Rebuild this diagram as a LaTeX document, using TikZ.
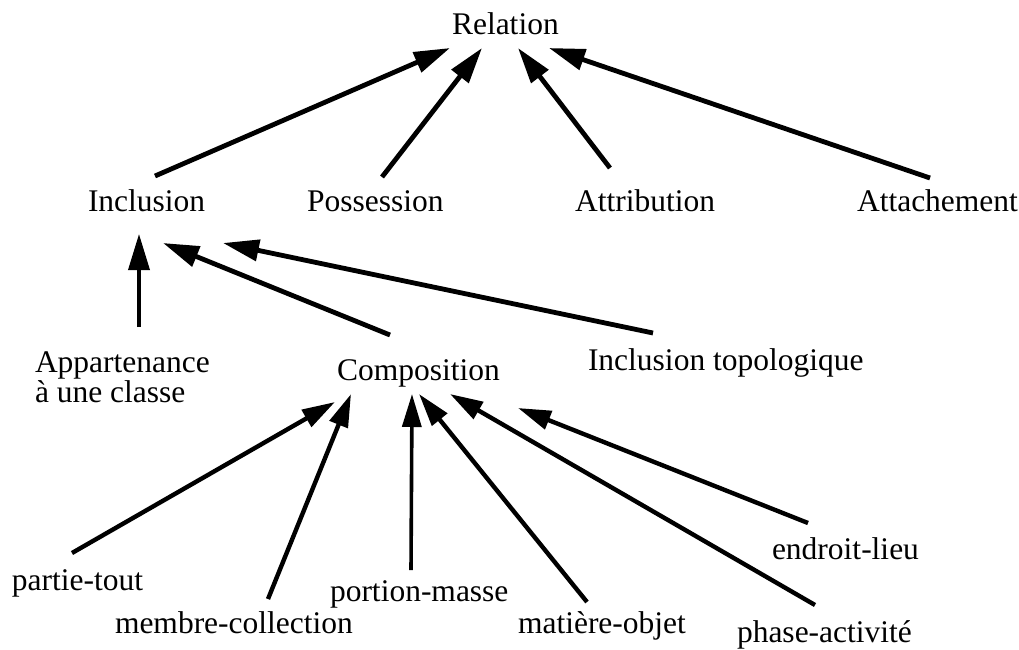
\documentclass[tikz,border=0pt]{standalone}
\usepackage{fontspec}
\setmainfont{Liberation Serif}
\usetikzlibrary{arrows.meta,calc}
\begin{document}
\begin{tikzpicture}[x=1pt,y=-1pt,
  lbl/.style={inner sep=0pt,outer sep=0pt,anchor=base west,font=\fontsize{31.5}{30}\selectfont},
  arr/.style={line width=4.8pt,-{Triangle[length=36pt,width=21pt]}},
  arrs/.style={line width=4.4pt,-{Triangle[length=33pt,width=19pt]}}]
\useasboundingbox[fill=white] (0,0) rectangle (1019,649);
% nodes
\node[lbl] (rel)  at (452,34)  {Relation};
\node[lbl] (incl) at (88,211)  {Inclusion};
\node[lbl] (poss) at (307,211) {Possession};
\node[lbl] (attr) at (575,211) {Attribution};
\node[lbl] (att)  at (857,211) {Attachement};
\node[lbl,align=left] (app) at (35,402) {Appartenance\\à une classe};
\node[lbl] (comp) at (337,380) {Composition};
\node[lbl] (topo) at (588,370) {Inclusion topologique};
\node[lbl] (pt) at (12,590)  {partie-tout};
\node[lbl] (mc) at (115,633) {membre-collection};
\node[lbl] (pm) at (330,601) {portion-masse};
\node[lbl] (mo) at (518,633) {matière-objet};
\node[lbl] (pa) at (737,642) {phase-activité};
\node[lbl] (el) at (772,559) {endroit-lieu};
% connectors: level 1
\draw[arr] ($(incl.base west)+(67,-35)$) -- ($(rel.base west)+(-2,14)$);
\draw[arr] ($(poss.base west)+(75,-34)$) -- ($(rel.base west)+(30,14)$);
\draw[arr] ($(attr.base west)+(35,-43)$) -- ($(rel.base west)+(66,14)$);
\draw[arr] ($(att.base west)+(73,-33)$) -- ($(rel.base west)+(97,14)$);
% level 2
\draw[arr,line width=3.6pt] ($(app.base west)+(104,-75)$) -- ($(incl.base west)+(51,23)$);
\draw[arr] ($(comp.base west)+(53,-45)$) -- ($(incl.base west)+(75,32)$);
\draw[arr] ($(topo.base west)+(65,-37)$) -- ($(incl.base west)+(135,32)$);
% level 3
\draw[arrs] ($(pt.base west)+(60,-37)$) -- ($(comp.base west)+(-2,22)$);
\draw[arrs] ($(mc.base west)+(153,-34)$) -- ($(comp.base west)+(14,14)$);
\draw[arrs,line width=3.6pt] ($(pm.base west)+(81,-31)$) -- ($(comp.base west)+(75,14)$);
\draw[arrs] ($(mo.base west)+(69,-31)$) -- ($(comp.base west)+(82,14)$);
\draw[arrs] ($(pa.base west)+(78,-37)$) -- ($(comp.base west)+(113,14)$);
\draw[arrs] ($(el.base west)+(36,-36)$) -- ($(comp.base west)+(181,28)$);
\end{tikzpicture}
\end{document}
